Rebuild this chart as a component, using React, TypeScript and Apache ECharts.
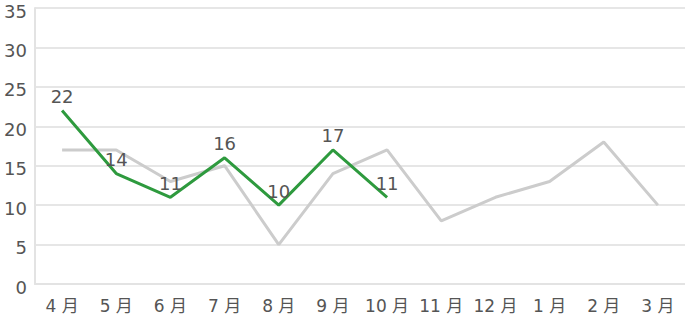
import React, { useEffect, useRef } from "react";
import * as echarts from "echarts";

const categories = ["4月", "5月", "6月", "7月", "8月", "9月", "10月", "11月", "12月", "1月", "2月", "3月"];
const lastYear = [17, 17, 13, 15, 5, 14, 17, 8, 11, 13, 18, 10];
const thisYear = [22, 14, 11, 16, 10, 17, 11];

export default function App() {
  const ref = useRef<HTMLDivElement>(null);
  useEffect(() => {
    document.body.style.margin = "0";
    const chart = echarts.init(ref.current!, null, { renderer: "svg" });
    const numFont = "DejaVu Sans";
    const cjkFont = "DejaVu Sans, Noto Sans CJK JP, sans-serif";
    chart.setOption({
      animation: false,
      grid: { left: 35, right: 0, top: 8, bottom: 39 },
      xAxis: {
        type: "category",
        data: categories,
        boundaryGap: true,
        axisLine: { show: true, lineStyle: { color: "#e3e3e3", width: 2 } },
        axisTick: { show: false },
        axisLabel: {
          interval: 0,
          color: "#555",
          fontSize: 17,
          fontFamily: cjkFont,
          margin: 13,
          formatter: (v: string) => v.replace("月", " 月"),
        },
      },
      yAxis: {
        type: "value",
        min: 0,
        max: 35,
        interval: 5,
        axisLine: { show: true, lineStyle: { color: "#e3e3e3", width: 2 } },
        axisTick: { show: false },
        splitLine: { lineStyle: { color: "#e6e6e6", width: 2 } },
        axisLabel: {
          color: "#555",
          fontSize: 18,
          fontFamily: numFont,
          margin: 8,
          verticalAlign: "top",
          lineHeight: 6,
        },
      },
      series: [
        {
          type: "line",
          data: lastYear,
          symbol: "none",
          lineStyle: { color: "#cccccc", width: 3 },
          itemStyle: { color: "#cccccc" },
          z: 1,
        },
        {
          type: "line",
          data: thisYear,
          symbol: "circle",
          symbolSize: 0,
          showSymbol: true,
          lineStyle: { color: "#2e9a3e", width: 3 },
          itemStyle: { color: "#2e9a3e" },
          label: {
            show: true,
            position: "top",
            color: "#555",
            fontSize: 18,
            fontFamily: numFont,
            distance: 5,
          },
          labelLayout: { hideOverlap: false },
          z: 2,
        },
      ],
    });
    return () => chart.dispose();
  }, []);
  return <div ref={ref} style={{ width: 685, height: 323 }} />;
}
